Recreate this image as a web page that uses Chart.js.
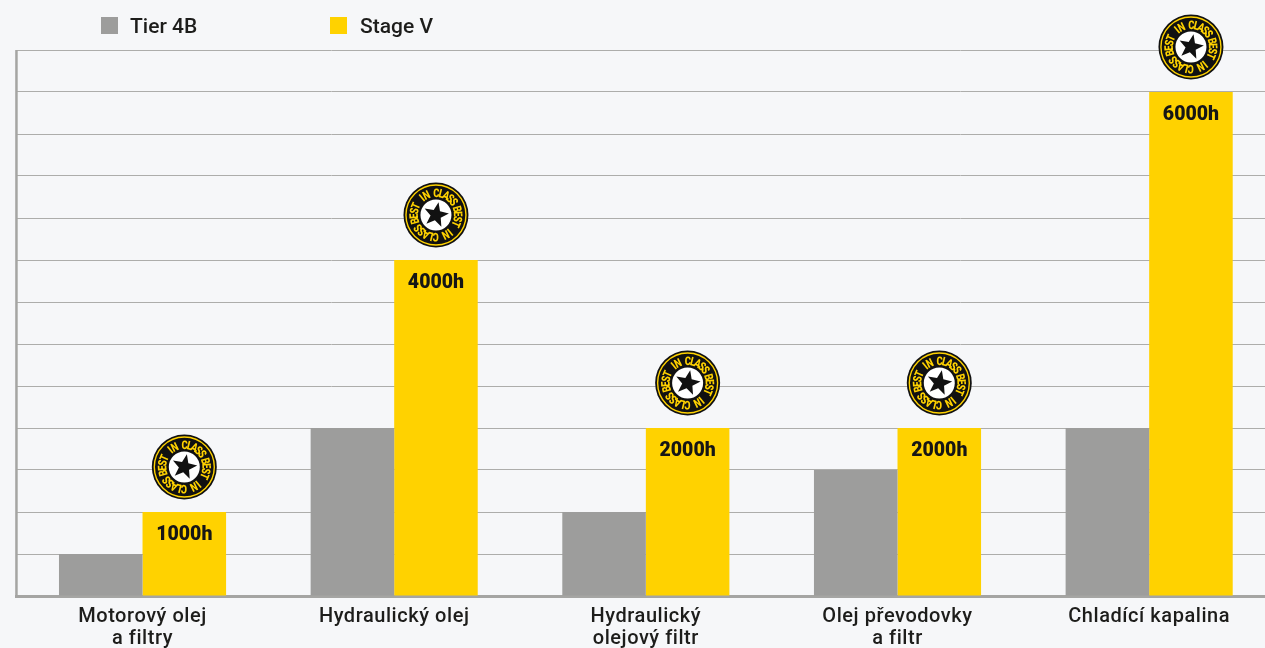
<!DOCTYPE html>
<html>
<head>
<meta charset="utf-8">
<title>Servisní intervaly</title>
<script src="https://cdn.jsdelivr.net/npm/chart.js@4/dist/chart.umd.min.js"></script>
<style>
    html, body { margin: 0; padding: 0; width: 1265px; height: 648px; overflow: hidden; background: #f6f7f9; }
    #wrap { position: relative; width: 1275px; height: 648px; }
    #legend { position: absolute; left: 0; top: 0; font: 500 21px Roboto, sans-serif; color: #1d1d1b; }
    #legend span { position: absolute; top: 14px; white-space: nowrap; line-height: 24px; }
    #legend i { position: absolute; top: 17px; width: 17px; height: 17px; }
</style>
</head>
<body>
<div id="wrap">
    <div id="legend"></div>
    <canvas id="serviceChart" width="1275" height="648"></canvas>
</div>
<script>
const categories = [['Motorový olej', 'a filtry'], 'Hydraulický olej', ['Hydraulický', 'olejový filtr'], ['Olej převodovky', 'a filtr'], 'Chladící kapalina'];
const tier4bHours = [500, 2000, 1000, 1500, 2000];
const stageVHours = [1000, 4000, 2000, 2000, 6000];
const seriesNames = ['Tier 4B', 'Stage V'];
const seriesColors = ['#9d9d9c', '#ffd200'];
const badgeText = 'BEST IN CLASS';

// Tick labels are a little wider than Roboto, so space them out
const tickSpacing = {
    id: 'tickSpacing',
    beforeDraw(chart) {
        chart.ctx.letterSpacing = '0.55px';
    },
    afterDraw(chart) {
        chart.ctx.letterSpacing = '0px';
    }
};

// Y axis line sits just left of the plot area
const leftAxis = {
    id: 'leftAxis',
    afterDatasetsDraw(chart) {
        const ctx = chart.ctx;
        const area = chart.chartArea;
        ctx.save();
        ctx.fillStyle = '#a5a5a3';
        ctx.fillRect(area.left - 1.5, area.top, 2.5, area.bottom - area.top + 1);
        ctx.restore();
    }
};

// Hour labels inside the yellow bars
const barLabels = {
    id: 'barLabels',
    afterDatasetsDraw(chart) {
        const ctx = chart.ctx;
        ctx.save();
        ctx.letterSpacing = '0px';
        ctx.font = '900 19.5px Roboto, sans-serif';
        ctx.fillStyle = '#161615';
        ctx.textAlign = 'center';
        ctx.textBaseline = 'middle';
        chart.getDatasetMeta(1).data.forEach((bar, i) => {
            ctx.fillText(stageVHours[i] + 'h', bar.x, bar.y + 23);
        });
        ctx.restore();
    }
};

function drawArcText(ctx, text, startAngle, step, radius) {
    for (let i = 0; i < text.length; i++) {
        const a = startAngle + i * step;
        ctx.save();
        ctx.rotate(a);
        ctx.translate(0, -radius);
        ctx.scale(0.78, 1);
        ctx.fillText(text[i], 0, 0);
        ctx.restore();
    }
}

function drawStar(ctx, r) {
    ctx.beginPath();
    for (let i = 0; i < 10; i++) {
        const rad = i % 2 ? r * 0.42 : r;
        const a = i * Math.PI / 5 + 0.2;
        ctx.lineTo(Math.sin(a) * rad, -Math.cos(a) * rad);
    }
    ctx.closePath();
    ctx.fill();
}

// Round "best in class" stamp above each yellow bar
const badges = {
    id: 'badges',
    afterDatasetsDraw(chart) {
        const ctx = chart.ctx;
        chart.getDatasetMeta(1).data.forEach((bar) => {
            ctx.save();
            ctx.letterSpacing = '0px';
            ctx.translate(bar.x, bar.y - 45);
            ctx.fillStyle = '#111';
            ctx.beginPath();
            ctx.arc(0, 0, 32.5, 0, Math.PI * 2);
            ctx.fill();
            ctx.strokeStyle = '#ffd200';
            ctx.lineWidth = 1.4;
            ctx.beginPath();
            ctx.arc(0, 0, 30, 0, Math.PI * 2);
            ctx.stroke();
            ctx.fillStyle = '#ffd200';
            ctx.font = '900 12px Roboto, sans-serif';
            ctx.textAlign = 'center';
            ctx.textBaseline = 'alphabetic';
            const step = 0.233;
            drawArcText(ctx, badgeText, -1.85, step, 18);
            drawArcText(ctx, badgeText, -1.85 + Math.PI, step, 18);
            ctx.fillStyle = '#fff';
            ctx.beginPath();
            ctx.arc(0, 0, 15.5, 0, Math.PI * 2);
            ctx.fill();
            ctx.fillStyle = '#111';
            drawStar(ctx, 13);
            ctx.restore();
        });
    }
};

document.getElementById('legend').innerHTML = seriesNames.map((name, i) => {
    const boxX = [101, 330][i];
    const textX = [130, 360][i];
    return `<i style="left:${boxX}px;background:${seriesColors[i]}"></i><span style="left:${textX}px">${name}</span>`;
}).join('');

new Chart(document.getElementById('serviceChart'), {
    type: 'bar',
    data: {
        labels: categories,
        datasets: [
            { label: seriesNames[0], data: tier4bHours, backgroundColor: seriesColors[0] },
            { label: seriesNames[1], data: stageVHours, backgroundColor: seriesColors[1] }
        ]
    },
    plugins: [tickSpacing, leftAxis, barLabels, badges],
    options: {
        responsive: false,
        animation: false,
        layout: { padding: { left: 16.7, top: 50, right: 0, bottom: 0 } },
        categoryPercentage: 0.664,
        barPercentage: 1,
        plugins: { legend: { display: false }, tooltip: { enabled: false } },
        scales: {
            x: {
                afterFit: (scale) => { scale.height = 52; },
                grid: { display: false, drawTicks: false },
                border: { color: '#a5a5a3', width: 3 },
                ticks: {
                    color: '#1d1d1b',
                    font: { family: 'Roboto, sans-serif', size: 20, weight: '500', lineHeight: 1.1 },
                    maxRotation: 0,
                    autoSkip: false,
                    padding: 10
                }
            },
            y: {
                min: 0,
                max: 6500,
                afterFit: (scale) => { scale.width = 0; },
                grid: { color: '#adadab', lineWidth: 1, drawTicks: false },
                border: { display: false },
                ticks: { display: false, stepSize: 500 }
            }
        }
    }
});
</script>
</body>
</html>
